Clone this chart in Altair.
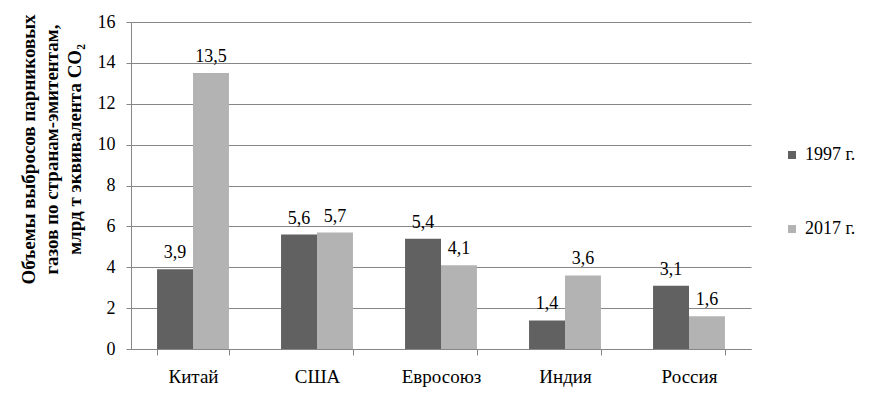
import altair as alt
import pandas as pd

countries = ["Китай", "США", "Евросоюз", "Индия", "Россия"]
v1997 = [3.9, 5.6, 5.4, 1.4, 3.1]
v2017 = [13.5, 5.7, 4.1, 3.6, 1.6]
series = ["1997 г.", "2017 г."]
y_ticks = [0, 2, 4, 6, 8, 10, 12, 14, 16]
y_title = ["Объемы выбросов парниковых", "газов по странам-эмитентам,", "млрд т эквивалента CO₂"]

rows = []
for c, a, b in zip(countries, v1997, v2017):
    rows.append({"country": c, "series": series[0], "value": a})
    rows.append({"country": c, "series": series[1], "value": b})
df = pd.DataFrame(rows)
df["label"] = df["value"].map(lambda v: f"{v:.1f}".replace(".", ","))

font = "Liberation Serif, Times New Roman, serif"
gray = "#868686"
fs = 18

x = alt.X("country:N", sort=countries, title=None,
          scale=alt.Scale(paddingInner=0.42, paddingOuter=0.21),
          axis=alt.Axis(labelAngle=0, labelFontSize=19, labelFont=font, labelColor="black",
                        labelPadding=12, tickBand="extent", tickSize=6,
                        domainColor=gray, tickColor=gray))
xo = alt.XOffset("series:N", sort=series, scale=alt.Scale(paddingInner=0, paddingOuter=0))
y = alt.Y("value:Q", scale=alt.Scale(domain=[0, 16]),
          axis=alt.Axis(values=y_ticks, title=y_title, titleFont=font, titleFontSize=19,
                        titleFontWeight="bold", titleColor="black", titleLineHeight=23,
                        titleX=-93, titleY=127,
                        labelFont=font, labelFontSize=fs, labelColor="black", labelPadding=11,
                        tickSize=5, domainColor=gray, tickColor=gray, grid=True,
                        gridColor=gray, gridWidth=1))
color = alt.Color("series:N", sort=series,
                  scale=alt.Scale(domain=series, range=["#616161", "#b3b3b3"]),
                  legend=alt.Legend(title=None, orient="none", legendX=652, legendY=124,
                                    padding=0, symbolType="square", symbolSize=64,
                                    symbolStrokeWidth=0,
                                    labelFont=font, labelFontSize=fs, labelColor="black",
                                    labelOffset=4, rowPadding=56))

bars = alt.Chart(df).mark_bar().encode(x=x, xOffset=xo, y=y, color=color)
text = alt.Chart(df).mark_text(baseline="bottom", dy=-7, fontSize=fs, font=font, color="black").encode(
    x=x, xOffset=xo, y=y, text="label:N")

chart = alt.layer(bars, text).properties(
    width=620, height=327,
    autosize=alt.AutoSizeParams(type="none"),
    padding={"left": 123, "top": 14, "right": 114, "bottom": 39},
).configure_view(stroke=None)

chart.save("out.html", embed_options={"renderer": "svg", "actions": False})
